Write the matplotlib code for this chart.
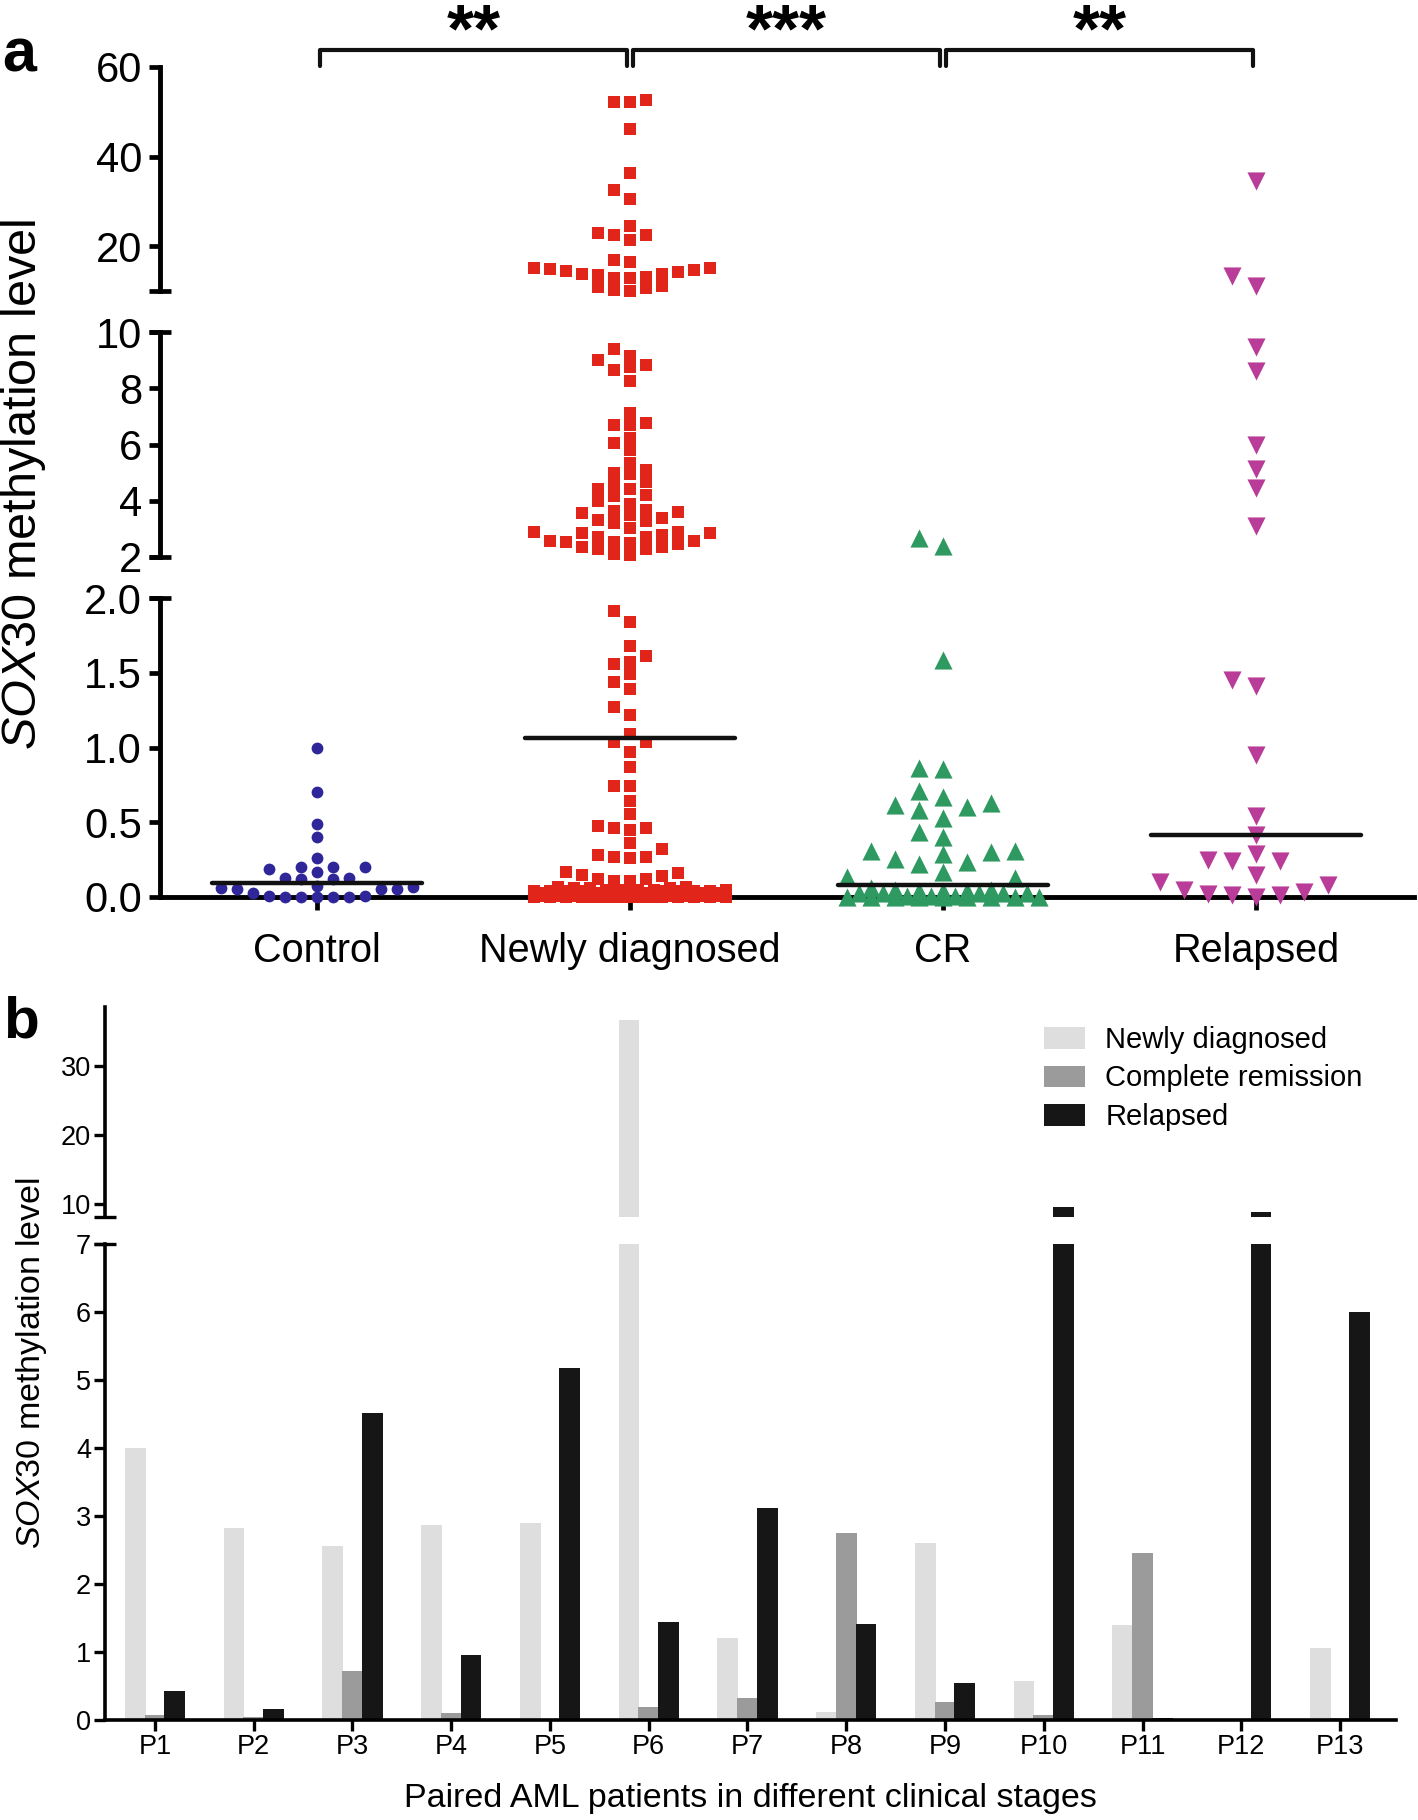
import numpy as np
import matplotlib.pyplot as plt
from matplotlib.patches import Patch

plt.rcParams['font.family'] = ['Liberation Sans', 'DejaVu Sans']
plt.rcParams['mathtext.fontset'] = 'custom'
plt.rcParams['mathtext.rm'] = 'Liberation Sans'
plt.rcParams['mathtext.it'] = 'Liberation Sans:italic'

# ---- panel a data ----
groups = ['Control', 'Newly diagnosed', 'CR', 'Relapsed']
control = [1.0, 0.70, 0.49, 0.40, 0.26, 0.20, 0.19, 0.20, 0.20, 0.17,
           0.13, 0.12, 0.12, 0.13, 0.075, 0.064, 0.053, 0.053, 0.053, 0.06,
           0.027, 0.01, 0.0, 0.0, 0.0, 0.0, 0.0, 0.01]
newly = [52.6, 52.1, 52.1, 46.1, 36.4, 32.5, 30.5, 24.4, 22.6, 21.3,
         22.4, 22.9, 16.5, 15.2, 14.7, 13.0, 14.2, 13.9, 13.6, 13.9,
         14.5, 14.8, 12.8, 15.1, 13.2, 16.9, 11.2, 10.7, 10.0, 10.2, 10.9,
         9.16, 8.75, 8.99, 8.27, 9.39, 8.64, 8.82,
         7.12, 6.71, 6.68, 6.78, 6.24, 6.07, 5.79,
         5.35, 5.11, 4.95, 5.0, 4.58, 4.65, 4.2, 4.42, 4.17, 4.43, 3.99, 3.89,
         3.67, 3.55, 3.37, 3.49, 3.61, 3.64, 3.27, 3.04, 3.22, 3.32,
         2.57, 2.53, 2.84, 2.46, 2.80, 2.36, 2.72, 2.27, 2.72, 2.07,
         2.84, 2.11, 2.88, 2.30, 2.89, 2.36, 2.50, 2.53, 2.56,
         1.91, 1.84, 1.68, 1.61, 1.57, 1.56, 1.49, 1.44, 1.39, 1.27,
         1.22, 1.09, 1.04, 1.04, 0.97, 0.87, 0.74, 0.74, 0.64, 0.555,
         0.475, 0.46, 0.45, 0.46,
         0.32, 0.27, 0.26, 0.27, 0.28, 0.36,
         0.16, 0.14, 0.12, 0.11, 0.11, 0.12, 0.15, 0.17,
         0.00, 0.00, 0.00, 0.00, 0.00, 0.00, 0.00, 0.00, 0.00, 0.00,
         0.00, 0.00, 0.00, 0.00, 0.00, 0.00, 0.00, 0.00,
         0.01, 0.01, 0.01, 0.01, 0.01, 0.01, 0.01, 0.01, 0.01, 0.01,
         0.01, 0.01, 0.01, 0.01,
         0.02, 0.02, 0.02, 0.02, 0.02, 0.02, 0.02, 0.02, 0.02, 0.02,
         0.02, 0.02,
         0.03, 0.03, 0.03, 0.03, 0.03, 0.03, 0.03, 0.03, 0.03, 0.03,
         0.04, 0.04, 0.04, 0.04, 0.04, 0.04, 0.04, 0.04,
         0.05, 0.05, 0.05, 0.05, 0.05,
         0.06, 0.06, 0.06, 0.07, 0.07]
cr = [2.69, 2.38, 1.585, 0.86, 0.854, 0.709, 0.67, 0.63, 0.615, 0.60,
      0.58, 0.53, 0.437, 0.40, 0.31, 0.31, 0.30, 0.29, 0.254, 0.236,
      0.22, 0.17, 0.136, 0.125,
      0.0, 0.0, 0.0, 0.0, 0.0, 0.0, 0.0, 0.0, 0.0,
      0.01, 0.01, 0.01, 0.03, 0.03, 0.03, 0.03, 0.03,
      0.04, 0.04, 0.04, 0.05, 0.05, 0.06]
relapsed = [34.6, 13.4, 11.1, 9.48, 8.62, 6.0, 5.13, 4.47, 3.10, 1.41,
            1.45, 0.95, 0.54, 0.415, 0.29, 0.24, 0.24, 0.245, 0.15, 0.08,
            0.036, 0.013, 0.0, 0.013, 0.017, 0.05, 0.10]
medians = [0.095, 1.066, 0.078, 0.415]
sig_pairs = [(0, 1), (1, 2), (2, 3)]
sig_labels = ['**', '***', '**']

# ---- panel b data ----
patients = ['P1', 'P2', 'P3', 'P4', 'P5', 'P6', 'P7', 'P8', 'P9', 'P10',
            'P11', 'P12', 'P13']
stage_names = ['Newly diagnosed', 'Complete remission', 'Relapsed']
newly_b = [4.0, 2.83, 2.56, 2.87, 2.9, 36.6, 1.2, 0.12, 2.61, 0.57, 1.40, 0.0, 1.06]
cr_b = [0.07, 0.04, 0.72, 0.11, 0.0, 0.19, 0.32, 2.75, 0.27, 0.07, 2.46, 0.0, 0.03]
relapsed_b = [0.42, 0.16, 4.51, 0.96, 5.17, 1.44, 3.12, 1.41, 0.55, 9.6, 0.03, 8.8, 6.0]

W, H = 1418, 1820
fig = plt.figure(figsize=(W / 100, H / 100), dpi=100)


def rect(l, t, r, b):
    return [l / W, 1 - b / H, (r - l) / W, (b - t) / H]


def px_scale(ax):
    p0 = ax.transData.transform((0, 0))
    p1 = ax.transData.transform((1, 1))
    return p1 - p0


def lattice_swarm(vals, ypx, step_px, mk_px, max_col):
    # columns 0, -1, +1, ... first, then half steps, then least crowded
    full = [0]
    for k in range(1, max_col + 1):
        full += [-k, k]
    half = []
    for k in range(max_col):
        half += [-(k + 0.5), k + 0.5]
    prefs = full + half
    placed = {c: [] for c in prefs}
    cols = np.zeros(len(vals))
    for i in np.argsort(vals, kind='stable'):
        y = vals[i] * ypx
        best, best_n = None, None
        for c in prefs:
            n = sum(abs(y - yy) < mk_px for yy in placed[c])
            if n == 0:
                best = c
                break
            if best_n is None or n < best_n:
                best, best_n = c, n
        placed[best].append(y)
        cols[i] = best
    return cols * step_px


def cap(ax, x, y, half, lw):
    ax.plot([x], [y], marker='_', markersize=2 * half, mew=lw, color='k',
            clip_on=False, zorder=5)


# ================= panel a =================
ax_bot = fig.add_axes(rect(160, 598, 1414, 897))
ax_mid = fig.add_axes(rect(160, 332, 1414, 557))
ax_top = fig.add_axes(rect(160, 67, 1414, 291))
xl = (-0.502, 3.505)
segs = [(ax_bot, 0, 2), (ax_mid, 2, 10), (ax_top, 10, 60)]
ytick_sets = [([0, 0.5, 1.0, 1.5, 2.0], ['0.0', '0.5', '1.0', '1.5', '2.0']),
              ([2, 4, 6, 8, 10], ['2', '4', '6', '8', '10']),
              ([20, 40, 60], ['20', '40', '60'])]
for (ax, lo, hi), (tk, lb) in zip(segs, ytick_sets):
    ax.set_xlim(*xl)
    ax.set_ylim(lo, hi)
    for s in ['top', 'right']:
        ax.spines[s].set_visible(False)
    ax.spines['left'].set_linewidth(3.5)
    ax.spines['bottom'].set_linewidth(3.5)
    ax.set_yticks(tk, lb, fontsize=30)
    ax.tick_params(axis='y', direction='out', length=8, width=3.4, pad=5)
    ax.patch.set_visible(False)
for ax in (ax_mid, ax_top):
    ax.spines['bottom'].set_visible(False)
    ax.set_xticks([])
ax_bot.set_xticks(range(4), groups, fontsize=28.5)
ax_bot.tick_params(axis='x', direction='out', length=9, width=3.4, pad=16)

cap(ax_bot, xl[0], 2, 8, 3.4)
cap(ax_mid, xl[0], 2, 8, 3.4)
cap(ax_mid, xl[0], 10, 8, 3.4)
cap(ax_top, xl[0], 10, 8, 3.4)

values = [control, newly, cr, relapsed]
colors = ['#2f2799', '#e1251b', '#2e9960', '#b83c98']
markers = ['o', 's', '^', 'v']
sizes = [72, 70, 170, 170]
steps = [16, 16, 24, 24]
mk_px = [11, 11, 15, 15]
max_cols = [6, 6, 4, 4]

for gi, vals in enumerate(values):
    vals = np.asarray(vals)
    for si, (ax, lo, hi) in enumerate(segs):
        if si == 0:
            m = vals < hi
        elif si == 1:
            m = (vals >= lo) & (vals < hi)
        else:
            m = vals >= lo
        v = vals[m]
        if len(v) == 0:
            continue
        sx, sy = px_scale(ax)
        off = lattice_swarm(v, sy, steps[gi], mk_px[gi], max_cols[gi])
        ax.scatter(gi + off / sx, v, s=sizes[gi], marker=markers[gi],
                   color=colors[gi], linewidths=0, clip_on=False, zorder=3)

for gi, med in enumerate(medians):
    ax_bot.plot([gi - 0.335, gi + 0.335], [med, med], color='#111111', lw=3.2,
                solid_capstyle='round', zorder=4, clip_on=False)

# significance brackets
for (a, b), lab in zip(sig_pairs, sig_labels):
    x0, x1 = a + 0.01, b - 0.01
    ax_top.plot([x0, x0, x1, x1], [60.3, 63.8, 63.8, 60.3], color='#111111',
                lw=3, clip_on=False, solid_joinstyle='round',
                solid_capstyle='round')
    ax_top.text((a + b) / 2, 63.4, lab, ha='center', va='baseline',
                fontsize=50, fontweight='bold', clip_on=False)

fig.text(2 / W, 1 - 71 / H, 'a', fontsize=44, fontweight='bold', va='baseline')
fig.text(24 / W, 1 - 484 / H, r'$\mathit{SOX30}$ methylation level',
         rotation=90, ha='center', va='center', fontsize=35)

# ================= panel b =================
bx_low = fig.add_axes(rect(105, 1244, 1396, 1720))
bx_up = fig.add_axes(rect(105, 1007, 1396, 1217))
xlb = (-0.506, 12.567)
x = np.arange(len(patients))
bar_colors = ['#dedede', '#9b9b9b', '#161616']
series = [newly_b, cr_b, relapsed_b]
offsets = [-0.2, 0.0, 0.2]
for ax in (bx_low, bx_up):
    for ser, off, c in zip(series, offsets, bar_colors):
        ax.bar(x + off, ser, width=0.21, color=c, linewidth=0)
    ax.set_xlim(*xlb)
    for s in ['top', 'right']:
        ax.spines[s].set_visible(False)
    ax.spines['left'].set_linewidth(2.6)
    ax.spines['bottom'].set_linewidth(2.6)
    ax.tick_params(axis='y', direction='out', length=8, width=2.4, pad=2)
bx_low.set_ylim(0, 7)
bx_low.set_yticks(range(8), [str(i) for i in range(8)], fontsize=19.5)
bx_low.set_xticks(x, patients, fontsize=19.5)
bx_low.tick_params(axis='x', direction='out', length=8, width=2.4, pad=2)
bx_up.set_ylim(8.1, 38.5)
bx_up.set_yticks([10, 20, 30], ['10', '20', '30'], fontsize=19.5)
bx_up.spines['bottom'].set_visible(False)
bx_up.set_xticks([])
cap(bx_low, xlb[0], 7, 8, 2.4)
cap(bx_up, xlb[0], 8.1, 8, 2.4)

handles = [Patch(facecolor=c, edgecolor='none') for c in bar_colors]
fig.legend(handles, stage_names, loc='upper left',
           bbox_to_anchor=(1044 / W, 1 - 1026 / H), frameon=False,
           fontsize=21, handlelength=1.4, handleheight=0.75,
           handletextpad=0.7, labelspacing=0.36, borderpad=0, borderaxespad=0)

fig.text(3 / W, 1 - 1038 / H, 'b', fontsize=42, fontweight='bold', va='baseline')
fig.text(32 / W, 1 - 1363 / H, r'$\mathit{SOX30}$ methylation level',
         rotation=90, ha='center', va='center', fontsize=24.5)
fig.text(750 / W, 1 - 1799 / H, 'Paired AML patients in different clinical stages',
         ha='center', va='center', fontsize=24.5)

fig.savefig('out.png', dpi=100)
